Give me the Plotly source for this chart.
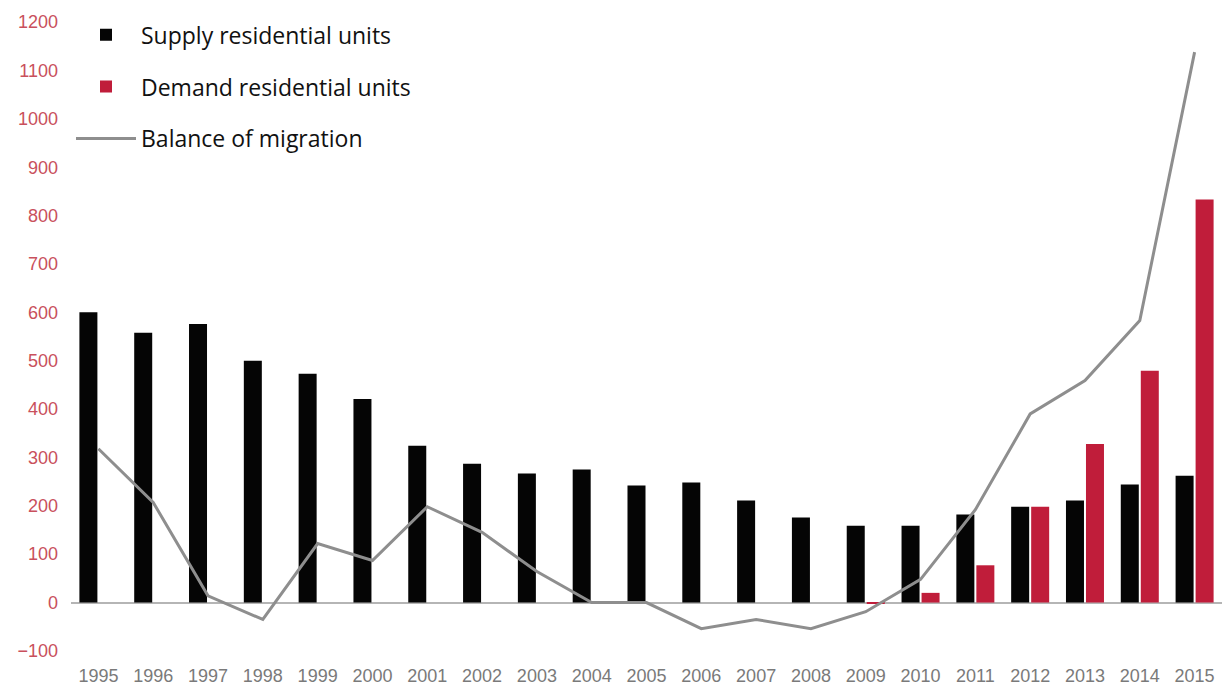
import plotly.graph_objects as go

years = [str(y) for y in range(1995, 2016)]
supply = [600, 558, 576, 500, 473, 421, 324, 287, 267, 275, 242, 248, 211, 176,
          159, 159, 182, 198, 211, 244, 262]
demand = [None, None, None, None, None, None, None, None, None, None, None, None, None, None,
          -3, 20, 77, 198, 328, 479, 833]
migration = [318, 207, 14, -35, 122, 87, 198, 145, 64, 0, 0, -54, -35, -54,
             -19, 48, 192, 390, 459, 583, 1138]
y_ticks = [-100, 0, 100, 200, 300, 400, 500, 600, 700, 800, 900, 1000, 1100, 1200]

fig = go.Figure()
fig.add_trace(go.Bar(x=years, y=supply, name="Supply residential units",
                     marker=dict(color="#050505", line=dict(width=0)),
                     legendgroup="a"))
fig.add_trace(go.Bar(x=years, y=demand, name="Demand residential units",
                     marker=dict(color="#c01d3a", line=dict(width=0)),
                     legendgroup="b"))
fig.add_trace(go.Scatter(x=years, y=migration, name="Balance of migration",
                         mode="lines", line=dict(color="#8e8e8e", width=3),
                         legendgroup="c"))

fig.update_layout(
    width=1222, height=686,
    margin=dict(l=71, r=0, t=10, b=23),
    paper_bgcolor="white", plot_bgcolor="white",
    barmode="group", bargap=0.27, bargroupgap=0.1,
    showlegend=True,
    legend=dict(x=0.0, y=0.995, xanchor="left", yanchor="top",
                traceorder="grouped", tracegroupgap=19, itemwidth=60,
                bgcolor="white",
                font=dict(family="Open Sans, Lato, sans-serif", size=23, color="#111")),
    xaxis=dict(type="category", showgrid=False, showline=False, ticks="",
               tickfont=dict(family="Liberation Sans, Arial", size=18, color="#7a7a7a")),
    yaxis=dict(range=[-125, 1225], tickvals=y_ticks, showgrid=False,
               zeroline=True, zerolinecolor="#b5b5b5", zerolinewidth=2,
               showline=False, ticks="", ticklabelstandoff=12,
               tickfont=dict(family="Liberation Sans, Arial", size=18, color="#c9505c")),
)

fig.write_html("out.html")
